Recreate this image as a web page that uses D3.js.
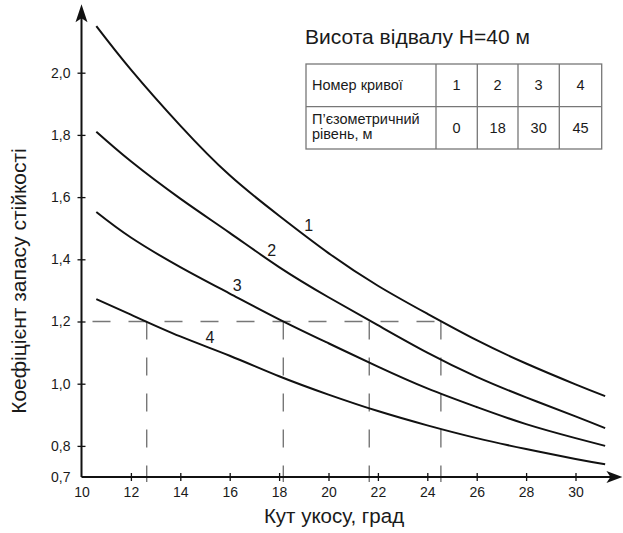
<!DOCTYPE html>
<html>
<head>
<meta charset="utf-8">
<script src="https://cdn.jsdelivr.net/npm/d3@7"></script>
<style>
  html, body { margin: 0; padding: 0; background: #fff; }
  svg text { font-family: "Liberation Sans", Arial, sans-serif; fill: #1a1a1a; }
</style>
</head>
<body>
<svg id="chart" width="623" height="533"></svg>
<script>
// Safety factor vs. slope angle, four piezometric levels

const X_TICKS = [10, 12, 14, 16, 18, 20, 22, 24, 26, 28, 30];
const Y_TICKS = [0.7, 0.8, 1.0, 1.2, 1.4, 1.6, 1.8, 2.0];

const ANGLE = [10.6, 12, 14, 16, 18, 20, 22, 24, 26, 28, 30, 31.2];
const CURVE_1 = [2.15, 2.01, 1.83, 1.67, 1.54, 1.42, 1.315, 1.225, 1.14, 1.065, 0.998, 0.96];
const CURVE_2 = [1.81, 1.715, 1.595, 1.485, 1.375, 1.278, 1.188, 1.10, 1.022, 0.956, 0.895, 0.857];
const CURVE_3 = [1.552, 1.47, 1.375, 1.29, 1.207, 1.13, 1.055, 0.985, 0.925, 0.87, 0.825, 0.80];
const CURVE_4 = [1.272, 1.222, 1.152, 1.09, 1.024, 0.965, 0.912, 0.866, 0.825, 0.79, 0.758, 0.741];

const CURVE_NAMES = ["1", "2", "3", "4"];
// label anchor points (angle, factor) next to each curve
const LABEL_X = [19.2, 17.7, 16.3, 15.2];
const LABEL_Y = [1.51, 1.43, 1.315, 1.15];

// required factor and the angles where curves reach it
const TARGET_K = 1.2;
const CROSS_X = [12.64, 18.17, 21.65, 24.55];

const PIEZO_LEVEL = ["0", "18", "30", "45"];

const svg = d3.select("#chart");

const x = d3.scaleLinear().domain([10, 30]).range([81.5, 575.5]);
const y = d3.scaleLinear().domain([0.7, 2.0]).range([477, 72.7]);
const X_END = 31.9, Y_END = 2.22;

const fmt = d => d3.format(".1f")(d).replace(".", ",");

//Dashed guide lines
const guides = svg.append("g")
  .attr("stroke", "#777")
  .attr("stroke-width", 1.4)
  .attr("stroke-dasharray", "18,18")
  .attr("fill", "none");

guides.append("line")
  .attr("x1", x(10) + 11).attr("x2", x(d3.max(CROSS_X)))
  .attr("y1", y(TARGET_K)).attr("y2", y(TARGET_K));

guides.selectAll(".vguide").data(CROSS_X).enter()
  .append("line")
  .attr("class", "vguide")
  .attr("x1", d => x(d)).attr("x2", d => x(d))
  .attr("y1", y(TARGET_K)).attr("y2", y(0.7) + 5);

//Curves
const series = [CURVE_1, CURVE_2, CURVE_3, CURVE_4].map(vals =>
  vals.map((v, i) => ({ a: ANGLE[i], k: v })));

const line = d3.line()
  .x(d => x(d.a))
  .y(d => y(d.k))
  .curve(d3.curveNatural);

svg.append("g").selectAll("path").data(series).enter()
  .append("path")
  .attr("d", line)
  .attr("fill", "none")
  .attr("stroke", "#111")
  .attr("stroke-width", 2);

svg.append("g").selectAll("text").data(CURVE_NAMES).enter()
  .append("text")
  .attr("x", (d, i) => x(LABEL_X[i]))
  .attr("y", (d, i) => y(LABEL_Y[i]))
  .attr("dy", "0.36em")
  .attr("text-anchor", "middle")
  .attr("font-size", 16)
  .text(d => d);

//Axes with arrows
const axisG = svg.append("g");
axisG.append("line")
  .attr("x1", x(10)).attr("x2", x(X_END) - 8)
  .attr("y1", y(0.7)).attr("y2", y(0.7))
  .attr("stroke", "#111").attr("stroke-width", 2);
axisG.append("line")
  .attr("x1", x(10)).attr("x2", x(10))
  .attr("y1", y(0.7)).attr("y2", y(Y_END) + 8)
  .attr("stroke", "#111").attr("stroke-width", 2);

const xa = x(X_END), ya = y(0.7);
axisG.append("path")
  .attr("d", `M${xa},${ya} L${xa - 16},${ya - 6} L${xa - 12},${ya} L${xa - 16},${ya + 6} Z`)
  .attr("fill", "#111");
const xb = x(10), yb = y(Y_END);
axisG.append("path")
  .attr("d", `M${xb},${yb} L${xb - 6},${yb + 18} L${xb},${yb + 14} L${xb + 6},${yb + 18} Z`)
  .attr("fill", "#111");

//X ticks and labels
const xAxis = d3.axisBottom(x).tickValues(X_TICKS).tickSize(4).tickFormat(d3.format("d"));
const gx = svg.append("g")
  .attr("transform", `translate(0,${y(0.7)})`)
  .call(xAxis);
gx.select(".domain").remove();
gx.selectAll(".tick line")
  .attr("y1", -4).attr("y2", 4)
  .attr("stroke", "#111").attr("stroke-width", 1.3)
  .filter(d => d === 10).remove();
gx.selectAll(".tick text")
  .attr("y", 0).attr("dy", "20px")
  .attr("font-size", 14)
  .attr("font-family", "Liberation Sans, Arial, sans-serif")
  .attr("fill", "#1a1a1a");

//Y ticks and labels
const yAxis = d3.axisLeft(y).tickValues(Y_TICKS).tickSize(4).tickFormat(fmt);
const gy = svg.append("g")
  .attr("transform", `translate(${x(10)},0)`)
  .call(yAxis);
gy.select(".domain").remove();
gy.selectAll(".tick line")
  .attr("x1", -4).attr("x2", 4)
  .attr("stroke", "#111").attr("stroke-width", 1.3)
  .filter(d => d === 0.7).remove();
gy.selectAll(".tick text")
  .attr("x", -11)
  .attr("font-size", 14)
  .attr("font-family", "Liberation Sans, Arial, sans-serif")
  .attr("fill", "#1a1a1a");

//Axis titles
svg.append("text")
  .attr("transform", `translate(26,281) rotate(-90)`)
  .attr("text-anchor", "middle")
  .attr("font-size", 21)
  .text("Коефіцієнт запасу стійкості");

svg.append("text")
  .attr("x", 334)
  .attr("y", 523)
  .attr("text-anchor", "middle")
  .attr("font-size", 20.5)
  .text("Кут укосу, град");

//Title and legend table
svg.append("text")
  .attr("x", 305).attr("y", 44)
  .attr("font-size", 21)
  .text("Висота відвалу H=40 м");

const tbl = svg.append("g");
const TX = [306, 436, 477.3, 518, 559.3, 601.7];
const TY = [64, 106.7, 149];

tbl.append("rect")
  .attr("x", TX[0]).attr("y", TY[0])
  .attr("width", TX[5] - TX[0]).attr("height", TY[2] - TY[0])
  .attr("fill", "none").attr("stroke", "#777").attr("stroke-width", 1.3);
tbl.append("line")
  .attr("x1", TX[0]).attr("x2", TX[5]).attr("y1", TY[1]).attr("y2", TY[1])
  .attr("stroke", "#777").attr("stroke-width", 1.3);
tbl.selectAll(".col").data(TX.slice(1, 5)).enter()
  .append("line")
  .attr("x1", d => d).attr("x2", d => d).attr("y1", TY[0]).attr("y2", TY[2])
  .attr("stroke", "#777").attr("stroke-width", 1.3);

tbl.append("text")
  .attr("x", 312).attr("y", 90)
  .attr("font-size", 14.5)
  .text("Номер кривої");
tbl.append("text")
  .attr("x", 312).attr("y", 124)
  .attr("font-size", 14.5)
  .text("П’єзометричний");
tbl.append("text")
  .attr("x", 312).attr("y", 139)
  .attr("font-size", 14.5)
  .text("рівень, м");

tbl.selectAll(".cn").data(CURVE_NAMES).enter()
  .append("text")
  .attr("x", (d, i) => (TX[i + 1] + TX[i + 2]) / 2)
  .attr("y", 90)
  .attr("text-anchor", "middle")
  .attr("font-size", 14.5)
  .text(d => d);
tbl.selectAll(".pl").data(PIEZO_LEVEL).enter()
  .append("text")
  .attr("x", (d, i) => (TX[i + 1] + TX[i + 2]) / 2)
  .attr("y", 133)
  .attr("text-anchor", "middle")
  .attr("font-size", 14.5)
  .text(d => d);
</script>
</body>
</html>
